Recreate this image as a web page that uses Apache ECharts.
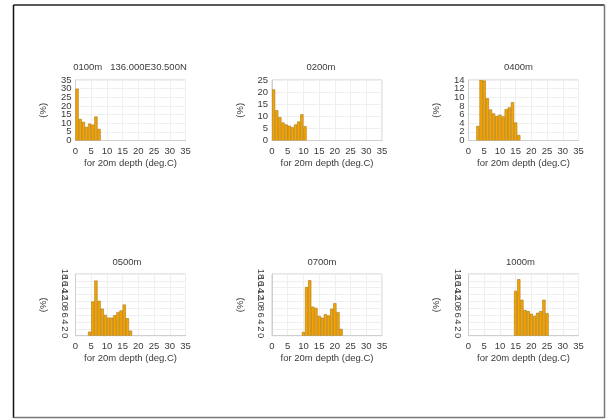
<!DOCTYPE html>
<html><head><meta charset="utf-8">
<script src="https://cdn.jsdelivr.net/npm/echarts@6/dist/echarts.min.js"></script>
<style>html,body{margin:0;padding:0;background:#fff}#c{width:610px;height:419px}</style>
</head><body><div id="c"></div>
<script>
// panel titles
const titles = ['0100m   136.000E30.500N', '0200m', '0400m', '0500m', '0700m', '1000m'];
// histogram values (%) per panel, bins of 1 deg.C starting at binStart
const v0100 = [29.8, 12.3, 10.6, 7.7, 9.6, 9.0, 13.7, 6.5];
const v0200 = [21.0, 12.4, 9.5, 7.3, 6.5, 6.0, 5.4, 6.5, 7.7, 10.7, 5.8];
const v0400 = [3.3, 14.0, 13.8, 9.7, 7.1, 6.2, 5.6, 5.9, 5.5, 7.2, 7.6, 8.8, 4.1, 1.2];
const v0500 = [1.1, 9.9, 16.0, 10.1, 7.8, 6.0, 5.2, 5.2, 5.9, 6.8, 7.3, 9.0, 5.0, 1.4];
const v0700 = [1.0, 14.1, 16.1, 8.4, 8.0, 5.7, 5.2, 6.2, 5.8, 7.8, 9.4, 6.8, 1.9];
const v1000 = [13.0, 16.4, 10.4, 7.4, 7.1, 6.3, 5.7, 6.6, 7.1, 10.4, 6.5];
const binStart = [0, 0, 2.5, 4, 9.5, 14.5];
const yMax = [35, 25, 14, 18, 18, 18];
const yStep = [5, 5, 2, 2, 2, 2];
const xMin = 0, xMax = 35, xStep = 5;
const xName = 'for 20m depth (deg.C)';
const yName = '(%)';

const values = [v0100, v0200, v0400, v0500, v0700, v1000];
const FONT = 'Liberation Sans';
const TXT = '#3a3a3a';
const FS = 9.5;
const lefts = [75.5, 272, 468.5];
const tops = [80, 274];
const heights = [60.5, 61.7];
const titleCx = [130, 321, 518.5, 127, 322, 520.5];
const titleCy = [67.5, 262.5];

const grids = [], xAxes = [], yAxes = [], yAxes2 = [], series = [], titleArr = [];
for (let i = 0; i < 6; i++) {
  const col = i % 3, row = Math.floor(i / 3);
  grids.push({left: lefts[col], top: tops[row], width: 110, height: heights[row],
    show: true, borderColor: '#cfcfcf', borderWidth: 1, backgroundColor: 'transparent'});
  xAxes.push({type: 'value', gridIndex: i, min: xMin, max: xMax, interval: xStep,
    name: xName, nameLocation: 'middle', nameGap: 18,
    nameTextStyle: {fontFamily: FONT, fontSize: FS, color: TXT},
    axisLine: {show: true, lineStyle: {color: '#cfcfcf'}}, axisTick: {show: false},
    axisLabel: {fontFamily: FONT, fontSize: FS, color: TXT, margin: 6, showMinLabel: true, showMaxLabel: true, hideOverlap: false},
    splitLine: {show: true, lineStyle: {color: '#efefef', width: 1}}});
  const lab = {fontFamily: FONT, fontSize: FS, color: TXT, margin: row === 1 ? 6 : 4,
    rotate: row === 1 ? -90 : 0, hideOverlap: false};
  // primary axis: all inner tick labels
  yAxes.push({type: 'value', gridIndex: i, position: 'left', min: 0, max: yMax[i], interval: yStep[i],
    name: yName, nameLocation: 'middle', nameRotate: 90, nameGap: 27,
    nameTextStyle: {fontFamily: FONT, fontSize: FS, color: TXT},
    axisLine: {show: true, lineStyle: {color: '#cfcfcf'}}, axisTick: {show: false},
    axisLabel: Object.assign({}, lab, {showMinLabel: false, showMaxLabel: false}),
    splitLine: {show: true, lineStyle: {color: '#efefef', width: 1}}});
  // companion axis on the same side: only the end labels
  const mx = yMax[i];
  yAxes2.push({type: 'value', gridIndex: i, position: 'left', offset: 0, min: 0, max: mx, interval: yStep[i],
    axisLine: {show: false}, axisTick: {show: false}, splitLine: {show: false},
    axisLabel: Object.assign({}, lab, {showMinLabel: true, showMaxLabel: true,
      formatter: function (v) { return (v === 0 || v === mx) ? String(v) : ''; }})});
  const data = values[i].map((v, k) => [binStart[i] + k, binStart[i] + k + 1, v]);
  series.push({type: 'custom', xAxisIndex: i, yAxisIndex: i, data: data, clip: true,
    renderItem: function (params, api) {
      const a = api.coord([api.value(0), 0]);
      const b = api.coord([api.value(1), api.value(2)]);
      return {type: 'rect', shape: {x: a[0] + 0.25, y: b[1], width: b[0] - a[0] - 0.5, height: a[1] - b[1]},
        style: {fill: '#f7a300', stroke: '#a57a1c', lineWidth: 0.6}};
    }});
  titleArr.push({text: titles[i], left: titleCx[i], top: titleCy[row] - 5.5, textAlign: 'center',
    textStyle: {fontFamily: FONT, fontSize: FS, fontWeight: 'normal', color: TXT}, padding: 0});
}

const chart = echarts.init(document.getElementById('c'), null, {renderer: 'canvas'});
chart.setOption({
  backgroundColor: '#fff',
  animation: false,
  title: titleArr,
  grid: grids, xAxis: xAxes, yAxis: yAxes.concat(yAxes2), series: series,
  graphic: [
    {type: 'line', shape: {x1: 13.5, y1: 5, x2: 604.5, y2: 5}, style: {stroke: '#222', lineWidth: 1.5}},
    {type: 'line', shape: {x1: 13.5, y1: 5, x2: 13.5, y2: 418}, style: {stroke: '#111', lineWidth: 1.5}},
    {type: 'line', shape: {x1: 604.5, y1: 5, x2: 604.5, y2: 418}, style: {stroke: '#777', lineWidth: 1.5}},
    {type: 'line', shape: {x1: 13.5, y1: 417.5, x2: 604.5, y2: 417.5}, style: {stroke: '#777', lineWidth: 1.5}}
  ]
});
</script></body></html>
